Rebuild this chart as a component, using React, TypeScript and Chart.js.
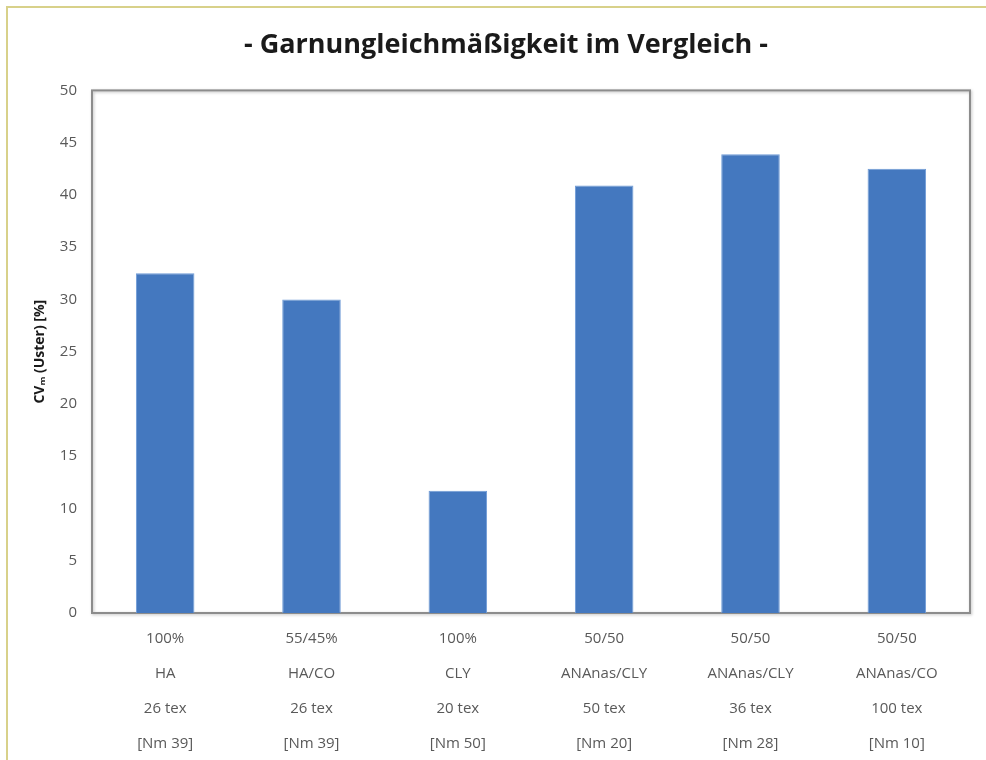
import React, { useEffect, useRef } from "react";
import { Chart, registerables } from "chart.js";

Chart.register(...registerables);

const titleText = "- Garnungleichmäßigkeit im Vergleich -";
const yAxisTitle = "CVₘ (Uster) [%]";
const categories: string[][] = [
  ["100%", "HA", "26 tex", "[Nm 39]"],
  ["55/45%", "HA/CO", "26 tex", "[Nm 39]"],
  ["100%", "CLY", "20 tex", "[Nm 50]"],
  ["50/50", "ANAnas/CLY", "50 tex", "[Nm 20]"],
  ["50/50", "ANAnas/CLY", "36 tex", "[Nm 28]"],
  ["50/50", "ANAnas/CO", "100 tex", "[Nm 10]"],
];
const cvValues = [32.5, 30.0, 11.7, 40.9, 43.9, 42.5];
const yMin = 0;
const yMax = 50;
const yStep = 5;

const framePlugin = {
  id: "framePlugin",
  beforeDraw(chart: any) {
    const ctx = chart.ctx;
    ctx.save();
    ctx.strokeStyle = "#d8d18a";
    ctx.lineWidth = 2;
    ctx.beginPath();
    ctx.moveTo(7, chart.height);
    ctx.lineTo(7, 7);
    ctx.lineTo(chart.width, 7);
    ctx.stroke();
    ctx.restore();
  },
  beforeDatasetsDraw(chart: any) {
    const { ctx, chartArea } = chart;
    ctx.save();
    ctx.shadowColor = "rgba(0,0,0,0.25)";
    ctx.shadowBlur = 3;
    ctx.shadowOffsetX = 1;
    ctx.shadowOffsetY = 1;
    ctx.strokeStyle = "#8c8c8c";
    ctx.lineWidth = 2;
    ctx.strokeRect(
      chartArea.left,
      chartArea.top,
      chartArea.right - chartArea.left,
      chartArea.bottom - chartArea.top
    );
    ctx.restore();
  },
};

export default function App() {
  const ref = useRef<HTMLCanvasElement | null>(null);

  useEffect(() => {
    if (!ref.current) return;
    const chart = new Chart(ref.current, {
      type: "bar",
      data: {
        labels: categories,
        datasets: [
          {
            data: cvValues,
            backgroundColor: "#4478bf",
            borderColor: "#6f9bd6",
            borderWidth: 1,
            barPercentage: 0.4,
            categoryPercentage: 1,
          },
        ],
      },
      options: {
        responsive: false,
        animation: false,
        layout: { padding: { left: 42, right: 16, top: 0, bottom: 0 } },
        plugins: {
          legend: { display: false },
          tooltip: { enabled: false },
          title: {
            display: true,
            text: titleText,
            color: "#1a1a1a",
            font: { family: "'Open Sans', sans-serif", size: 27, weight: "bold" },
            padding: { top: 29, bottom: 29 },
          },
        },
        scales: {
          x: {
            grid: { display: false, drawTicks: false },
            border: { display: false },
            ticks: {
              color: "#595959",
              font: { family: "'Open Sans', sans-serif", size: 15, lineHeight: 2.33 },
              padding: 8,
              maxRotation: 0,
              autoSkip: false,
            },
            afterFit: (s: any) => {
              s.height = 147;
            },
          },
          y: {
            min: yMin,
            max: yMax,
            grid: { display: false, drawTicks: false },
            border: { display: false },
            ticks: {
              stepSize: yStep,
              color: "#595959",
              font: { family: "'Open Sans', sans-serif", size: 15 },
              padding: 15,
            },
            title: {
              display: true,
              text: yAxisTitle,
              color: "#1a1a1a",
              font: { family: "'Open Sans', sans-serif", size: 14, weight: "bold" },
              padding: { top: -10.4, bottom: 0 },
            },
            afterFit: (s: any) => {
              s.width = 50;
            },
          },
        },
      },
      plugins: [framePlugin],
    });
    return () => chart.destroy();
  }, []);

  return (
    <div style={{ position: "absolute", left: 0, top: 0, width: 986, height: 760, background: "#fff" }}>
      <canvas ref={ref} width={986} height={760} style={{ display: "block" }} />
    </div>
  );
}
